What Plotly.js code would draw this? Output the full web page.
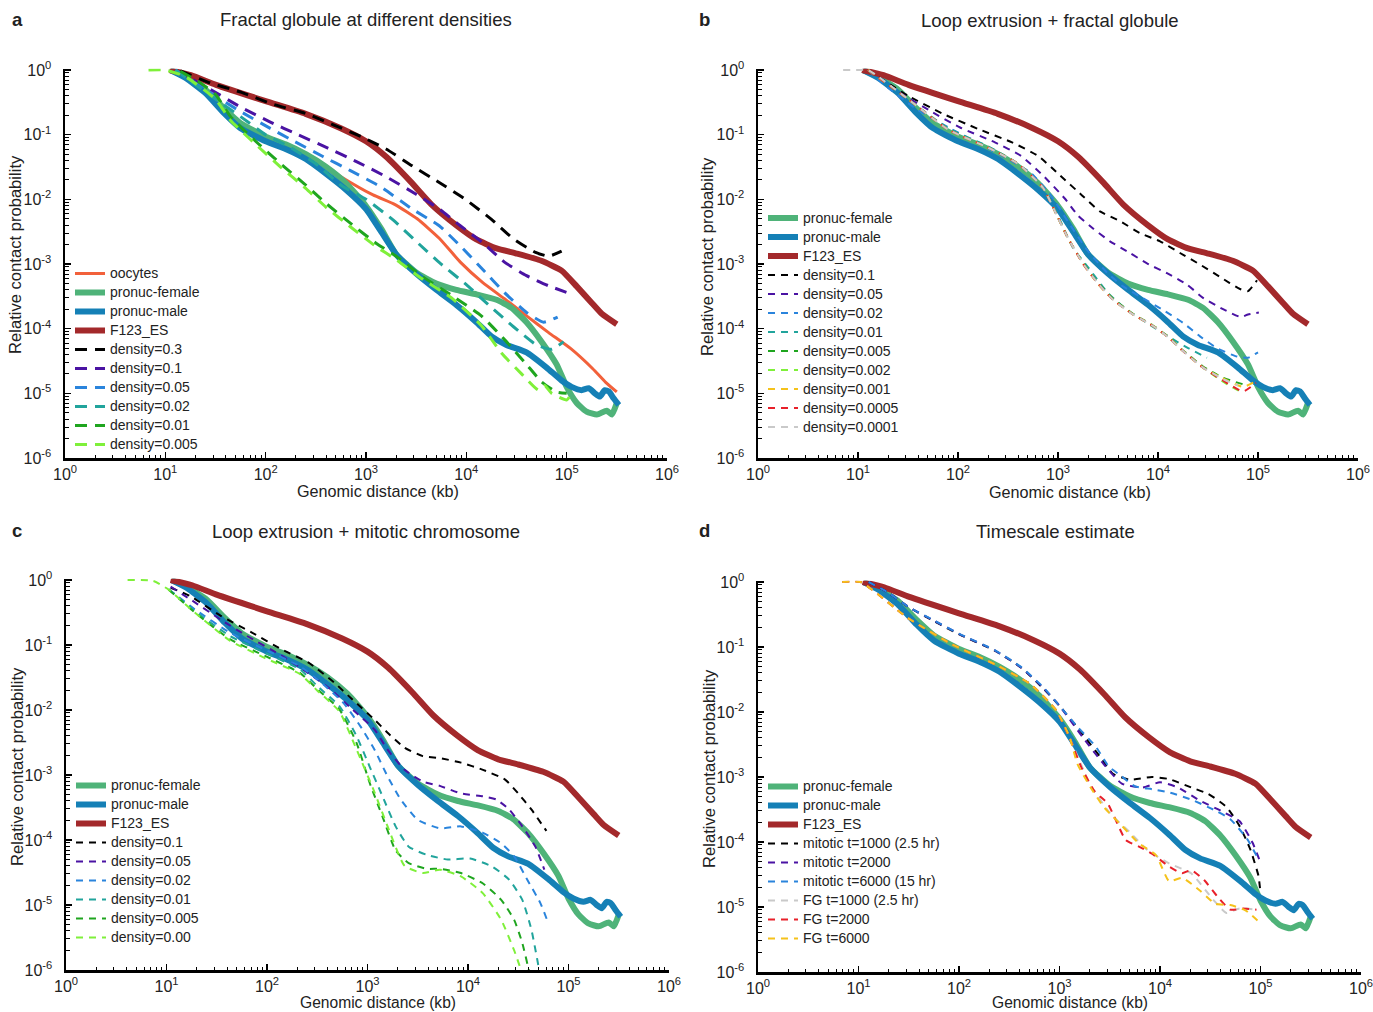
<!DOCTYPE html>
<html>
<head>
<meta charset="utf-8">
<script src="https://cdn.plot.ly/plotly-3.0.1.min.js"></script>
<style>html,body{margin:0;padding:0;background:#fff;}#chart{width:1373px;height:1012px;}</style>
</head>
<body>
<div id="chart"></div>
<script>
// ---------- tick labels ----------
const X_TICK_VALS = [1, 10, 100, 1000, 10000, 100000, 1000000];
const X_TICK_TEXT = ['10<sup>0</sup>','10<sup>1</sup>','10<sup>2</sup>','10<sup>3</sup>','10<sup>4</sup>','10<sup>5</sup>','10<sup>6</sup>'];
const Y_TICK_VALS = [1e-6, 1e-5, 1e-4, 1e-3, 1e-2, 1e-1, 1];
const Y_TICK_TEXT = ['10<sup>-6</sup>','10<sup>-5</sup>','10<sup>-4</sup>','10<sup>-3</sup>','10<sup>-2</sup>','10<sup>-1</sup>','10<sup>0</sup>'];

// ---------- experimental curves (genomic distance kb, contact probability) ----------
const f123X = [11, 18, 32, 100, 250, 560, 1000, 1600, 2800, 4500, 7900, 12600, 20000, 31600, 56000, 89000, 126000, 178000, 224000, 316000];
const f123Y = [1.0, 0.83, 0.59, 0.33, 0.21, 0.126, 0.079, 0.045, 0.0186, 0.0083, 0.0040, 0.0024, 0.00174, 0.00145, 0.00112, 0.00079, 0.00045, 0.00025, 0.00017, 0.000117];

const maleX = [11.2, 15.8, 25.1, 38, 56.2, 100, 158, 251, 398, 631, 1000, 1410, 2000, 3160, 5010, 7940, 12600, 17800, 25100, 39800, 63100, 89100, 112000, 141000, 166000, 191000, 214000, 240000, 263000, 295000, 331000];
const maleY = [1, 0.76, 0.44, 0.22, 0.126, 0.079, 0.060, 0.042, 0.025, 0.0141, 0.0071, 0.0032, 0.00141, 0.00071, 0.00040, 0.000234, 0.000126, 7.6e-5, 5.6e-5, 4.3e-5, 2.5e-5, 1.58e-5, 1.26e-5, 1.12e-5, 1.2e-5, 1.0e-5, 8.9e-6, 1.12e-5, 1.07e-5, 8.3e-6, 6.6e-6];

const femaleX = [11.2, 15.8, 25.1, 38, 56.2, 100, 158, 251, 398, 631, 1000, 1410, 2000, 3160, 5010, 7940, 12600, 20000, 28200, 39800, 56200, 79400, 100000, 126000, 158000, 200000, 251000, 282000, 316000];
const femaleY = [1, 0.79, 0.50, 0.26, 0.151, 0.093, 0.071, 0.050, 0.032, 0.0178, 0.0079, 0.00355, 0.00141, 0.00074, 0.00050, 0.000398, 0.00034, 0.00028, 0.00021, 0.000126, 6.3e-5, 2.8e-5, 1.26e-5, 7.1e-6, 5.2e-6, 4.7e-6, 5.4e-6, 4.7e-6, 7.1e-6];

const oocX = [11.2, 25.1, 56.2, 100, 251, 316, 562, 1175, 1950, 3240, 5370, 8710, 14500, 24000, 39800, 66100, 110000, 182000, 245000, 316000];
const oocY = [1, 0.5, 0.151, 0.093, 0.05, 0.040, 0.0224, 0.0117, 0.0083, 0.005, 0.0025, 0.00107, 0.00052, 0.00029, 0.000158, 8.7e-5, 4.9e-5, 2.4e-5, 1.48e-5, 1.05e-5];

// ---------- panel a: fractal globule ----------
const aD03X = [14.1, 28.2, 57.5, 115, 257, 479, 955, 1585, 2880, 5370, 9770, 17800, 29500, 49000, 66100, 89100];
const aD03Y = [0.966, 0.63, 0.45, 0.30, 0.21, 0.141, 0.089, 0.060, 0.033, 0.0182, 0.010, 0.0049, 0.00245, 0.00151, 0.00132, 0.00158];
const aD01X = [12.6, 28.8, 55.6, 110, 209, 417, 813, 1585, 3160, 5370, 8710, 14500, 24000, 39800, 66100, 102000];
const aD01Y = [1.0, 0.49, 0.27, 0.158, 0.10, 0.062, 0.038, 0.0224, 0.012, 0.0071, 0.0039, 0.00214, 0.00107, 0.00066, 0.00046, 0.00036];
const aD005X = [12.6, 28.2, 55.6, 110, 195, 372, 692, 1380, 2880, 5370, 8710, 14500, 24000, 39800, 58900, 81300];
const aD005Y = [1.0, 0.44, 0.23, 0.126, 0.078, 0.046, 0.028, 0.0158, 0.0071, 0.0039, 0.0019, 0.00083, 0.00036, 0.000178, 0.000126, 0.000151];
const aD002X = [12.6, 31.6, 56.2, 100, 178, 316, 575, 1000, 1860, 3160, 5500, 10000, 17400, 29500, 50100, 70800, 93300];
const aD002Y = [1.0, 0.355, 0.19, 0.10, 0.063, 0.0355, 0.0162, 0.010, 0.0048, 0.00224, 0.00102, 0.00048, 0.000219, 0.000107, 5.6e-5, 4.8e-5, 6.3e-5];
const aD001X = [14.1, 22.4, 31.6, 44.7, 79.4, 141, 251, 398, 708, 1260, 2000, 3550, 7080, 14100, 25100, 39800, 56200, 79400, 100000];
const aD001Y = [0.955, 0.63, 0.42, 0.19, 0.079, 0.0355, 0.0166, 0.0087, 0.0042, 0.0021, 0.00132, 0.00066, 0.00033, 0.000158, 6.3e-5, 2.8e-5, 1.51e-5, 1.05e-5, 1.0e-5];
const aD0005X = [6.8, 10, 15.8, 31.6, 44.7, 79.4, 141, 251, 398, 708, 1260, 2000, 3550, 7080, 14100, 22400, 35500, 52500, 60300, 70800, 100000, 110000];
const aD0005Y = [1, 1, 0.79, 0.355, 0.166, 0.071, 0.0316, 0.0148, 0.0076, 0.0037, 0.00186, 0.00117, 0.0006, 0.0003, 0.000112, 4.2e-5, 2.0e-5, 1.12e-5, 1.32e-5, 1.0e-5, 7.9e-6, 9.5e-6];

// ---------- panel b: loop extrusion + fractal globule ----------
const bD01X = [12.6, 31.6, 70.8, 158, 347, 631, 1050, 1740, 2630, 4170, 6610, 10500, 16600, 26300, 41700, 66100, 79400, 97700];
const bD01Y = [1.0, 0.40, 0.21, 0.123, 0.076, 0.047, 0.0234, 0.0115, 0.0065, 0.0046, 0.003, 0.00224, 0.00148, 0.00098, 0.00063, 0.00041, 0.00038, 0.00056];
const bD005X = [12.6, 23.4, 52.5, 105, 234, 427, 708, 1175, 1585, 2240, 3310, 5250, 7760, 12300, 19500, 28200, 44700, 67600, 79400, 102000];
const bD005Y = [1.0, 0.50, 0.234, 0.129, 0.076, 0.047, 0.0234, 0.0102, 0.0056, 0.00355, 0.00224, 0.00148, 0.00102, 0.00072, 0.00048, 0.0003, 0.0002, 0.000151, 0.000166, 0.000178];
const bD002X = [12.6, 17.4, 38.9, 85.1, 234, 525, 851, 1260, 2000, 3160, 4470, 7080, 11200, 17800, 26300, 38900, 61700, 79400, 100000];
const bD002Y = [1.0, 0.63, 0.245, 0.123, 0.054, 0.0263, 0.0115, 0.0045, 0.00158, 0.00071, 0.00045, 0.000295, 0.000195, 0.000123, 7.6e-5, 5.0e-5, 3.7e-5, 3.55e-5, 4.3e-5];
const bD001X = [12.6, 31.6, 79.4, 200, 398, 708, 1000, 1410, 2000, 3160, 5010, 7940, 12600, 20000, 30900];
const bD001Y = [1.0, 0.355, 0.126, 0.066, 0.0355, 0.0151, 0.0056, 0.00178, 0.00089, 0.000355, 0.00019, 0.00012, 7.6e-5, 5.0e-5, 3.55e-5];
const bD0005X = [12.6, 31.6, 79.4, 200, 398, 708, 1000, 1260, 1780, 2510, 3550, 5620, 8910, 12600, 17800, 28200, 44700, 70800];
const bD0005Y = [1, 0.355, 0.12, 0.063, 0.0355, 0.0151, 0.0052, 0.0025, 0.00104, 0.00051, 0.00029, 0.00017, 0.000112, 7.6e-5, 4.6e-5, 2.6e-5, 1.74e-5, 1.38e-5];
const bD0002X = [12.6, 31.6, 79.4, 200, 398, 708, 1000, 1260, 1780, 2510, 3550, 5620, 8910, 12600, 17800, 28200, 44700, 66100];
const bD0002Y = [1, 0.355, 0.12, 0.063, 0.0355, 0.0151, 0.0052, 0.0025, 0.00102, 0.0005, 0.00028, 0.000166, 0.00011, 7.4e-5, 4.5e-5, 2.5e-5, 1.51e-5, 1.07e-5];
const bD00001X = [12.6, 31.6, 79.4, 200, 398, 708, 1000, 1260, 1780, 2510, 3550, 5620, 8910, 12600, 17800, 28200, 44700, 70800, 100000];
const bD00001Y = [1, 0.355, 0.12, 0.063, 0.0355, 0.0151, 0.0052, 0.0025, 0.00100, 0.00049, 0.00028, 0.000166, 0.00011, 7.4e-5, 4.5e-5, 2.5e-5, 1.7e-5, 1.26e-5, 1.6e-5];
const bD00005X = [12.6, 31.6, 79.4, 200, 398, 708, 1000, 1260, 1780, 2510, 3550, 5620, 8910, 12600, 17800, 28200, 44700, 70800, 95500];
const bD00005Y = [1, 0.355, 0.12, 0.063, 0.0355, 0.0151, 0.0052, 0.0025, 0.00101, 0.0005, 0.00028, 0.000166, 0.00011, 7.4e-5, 4.5e-5, 2.5e-5, 1.58e-5, 1.07e-5, 1.45e-5];
const bD000001X = [7.1, 10, 12.6, 31.6, 79.4, 200, 398, 708, 1000, 1260, 1780, 2510, 3550, 5620, 8910, 12600, 17800, 28200, 44700, 63100];
const bD000001Y = [1, 1, 1, 0.355, 0.12, 0.063, 0.0355, 0.0151, 0.0052, 0.0025, 0.00102, 0.0005, 0.00028, 0.000166, 0.00011, 7.4e-5, 4.5e-5, 2.5e-5, 1.66e-5, 1.32e-5];

// ---------- panel c: loop extrusion + mitotic chromosome ----------
const cD01X = [11, 17.4, 34.7, 70.8, 141, 257, 468, 708, 1175, 1585, 2340, 3550, 5250, 8510, 14100, 23400, 31600, 42700, 60300];
const cD01Y = [0.76, 0.56, 0.28, 0.155, 0.085, 0.054, 0.0263, 0.0145, 0.0071, 0.00447, 0.00263, 0.00195, 0.00182, 0.00155, 0.0012, 0.00085, 0.00052, 0.000295, 0.000138];
const cD005X = [11, 17.4, 34.7, 63.1, 141, 257, 427, 708, 1175, 1585, 2340, 3550, 5250, 8510, 14100, 19100, 25700, 34700, 46800, 57500];
const cD005Y = [0.79, 0.50, 0.245, 0.138, 0.068, 0.037, 0.021, 0.0102, 0.005, 0.00245, 0.0012, 0.00079, 0.00068, 0.00052, 0.00047, 0.00042, 0.000295, 0.000162, 7.9e-5, 3.5e-5];
const cD002X = [10.5, 19.1, 42.7, 95.5, 214, 347, 575, 851, 1175, 1585, 2140, 3160, 5250, 8510, 14100, 21400, 28800, 38900, 52500, 63100];
const cD002Y = [0.72, 0.355, 0.155, 0.085, 0.047, 0.0263, 0.0129, 0.0056, 0.00245, 0.00095, 0.00042, 0.000204, 0.000151, 0.000162, 0.000129, 8.9e-5, 5.6e-5, 2.45e-5, 1.07e-5, 5.2e-6];
const cD001X = [10.5, 20, 42.7, 95.5, 214, 316, 525, 776, 1050, 1410, 1905, 2570, 3890, 6310, 10500, 17400, 25700, 34700, 42700, 52500];
const cD001Y = [0.72, 0.316, 0.138, 0.076, 0.042, 0.0234, 0.0115, 0.004, 0.00135, 0.00047, 0.000162, 7.9e-5, 5.9e-5, 5.0e-5, 5.2e-5, 3.9e-5, 2.45e-5, 1.2e-5, 4.2e-6, 7.9e-7];
const cD0005X = [10.5, 20, 42.7, 95.5, 214, 316, 525, 776, 1050, 1410, 1905, 2570, 3890, 5250, 8510, 14100, 21400, 28800, 34700, 41700];
const cD0005Y = [0.71, 0.30, 0.123, 0.068, 0.037, 0.021, 0.0102, 0.00316, 0.00076, 0.000229, 6.9e-5, 4.4e-5, 3.6e-5, 3.6e-5, 3.1e-5, 2.14e-5, 1.2e-5, 5.9e-6, 2.6e-6, 7.9e-7];
const cD000X = [4.1, 7.4, 10.5, 19.1, 42.7, 95.5, 214, 316, 525, 776, 1175, 1585, 2340, 3550, 5250, 8510, 14100, 21400, 28800, 35500];
const cD000Y = [1.0, 0.966, 0.71, 0.316, 0.117, 0.063, 0.0355, 0.02, 0.0095, 0.0025, 0.00054, 0.000162, 4.0e-5, 3.1e-5, 3.5e-5, 2.75e-5, 1.51e-5, 5.9e-6, 2.0e-6, 7.9e-7];

// ---------- panel d: timescale estimate ----------
const dMit1000X = [12.6, 20, 30.9, 56.2, 102, 229, 417, 692, 1020, 1700, 2510, 3390, 5010, 8320, 12300, 20400, 30200, 45700, 61700, 79400, 95500, 100000];
const dMit1000Y = [1.0, 0.68, 0.42, 0.25, 0.155, 0.087, 0.048, 0.0229, 0.012, 0.00457, 0.00209, 0.00112, 0.00091, 0.001, 0.00093, 0.00069, 0.00055, 0.000347, 0.000178, 7.6e-5, 3.0e-5, 1.62e-5];
const dMit2000X = [12.6, 20, 30.9, 56.2, 102, 229, 417, 692, 1020, 1700, 2750, 4170, 6760, 10000, 15100, 25100, 40700, 61700, 83200, 100000];
const dMit2000Y = [1.0, 0.68, 0.42, 0.255, 0.157, 0.088, 0.048, 0.0234, 0.012, 0.0041, 0.00158, 0.00079, 0.00069, 0.00083, 0.00069, 0.00043, 0.0003, 0.00021, 9.8e-5, 4.8e-5];
const dMit6000X = [12.6, 20, 30.9, 56.2, 102, 229, 417, 692, 1020, 1510, 2290, 3090, 4170, 5620, 8320, 12300, 20400, 33900, 50100, 74100, 95500];
const dMit6000Y = [1.0, 0.68, 0.42, 0.257, 0.158, 0.089, 0.049, 0.024, 0.012, 0.0059, 0.00295, 0.00145, 0.00102, 0.00072, 0.00065, 0.00058, 0.00045, 0.000316, 0.000224, 0.00011, 5.4e-5];
const dFG1000X = [6.9, 10.5, 30.9, 85.1, 229, 513, 933, 1260, 2000, 3160, 5010, 7590, 12300, 20400, 33900, 45700, 61700, 91200];
const dFG1000Y = [1, 1, 0.28, 0.11, 0.054, 0.0269, 0.0105, 0.004, 0.00079, 0.00028, 0.000141, 7.4e-5, 4.7e-5, 3.3e-5, 1.29e-5, 8.1e-6, 9.5e-6, 9.1e-6];
const dFG2000X = [6.9, 10.5, 30.9, 85.1, 229, 513, 933, 1260, 1660, 2240, 3020, 4570, 6170, 8320, 12300, 16600, 20400, 27500, 37200, 50100, 67600, 91200];
const dFG2000Y = [1, 1, 0.28, 0.11, 0.054, 0.0269, 0.0105, 0.004, 0.00138, 0.0006, 0.00039, 0.000107, 8.5e-5, 6.6e-5, 4.2e-5, 3.3e-5, 3.7e-5, 2.6e-5, 1.45e-5, 9.1e-6, 9.5e-6, 9.1e-6];
const dFG6000X = [6.9, 10.5, 30.9, 85.1, 229, 513, 933, 1260, 1510, 2040, 2750, 4170, 6170, 9120, 12300, 16600, 25100, 35500, 50100, 70800, 100000];
const dFG6000Y = [1, 1, 0.28, 0.11, 0.054, 0.0269, 0.0105, 0.0041, 0.00158, 0.00069, 0.000347, 0.000178, 9.5e-5, 6.3e-5, 2.5e-5, 2.8e-5, 1.78e-5, 1.12e-5, 1.07e-5, 8.9e-6, 5.6e-6];

// ---------- colours ----------
const C = {
  ooc: '#f2613b', female: '#4fb379', male: '#1580b6', f123: '#a3292b',
  black: '#000000', purple: '#4a13a3', blue: '#2a84dc', teal: '#21a49c',
  green: '#1fa51f', lime: '#7ff03a', yellow: '#f5c21b', red: '#e8202a', gray: '#c9c9c9'
};
const FONT = 'Liberation Sans, Arial, Helvetica, sans-serif';

function line(x, y, name, color, width, dash, leg, n) {
  return {
    type: 'scatter', mode: 'lines', x: x, y: y,
    name: '<span style="font-size:14px">' + name + '</span>', legend: leg,
    xaxis: n === 1 ? 'x' : 'x' + n, yaxis: n === 1 ? 'y' : 'y' + n,
    line: { color: color, width: width, dash: dash, shape: 'spline', smoothing: 0.5 },
    hoverinfo: 'skip'
  };
}
const DA = '12px,8px';
const DB = '7px,6px';
const TH = 6;

const traces = [
  // a
  line(oocX, oocY, 'oocytes', C.ooc, 3, 'solid', 'legend', 1),
  line(femaleX, femaleY, 'pronuc-female', C.female, TH, 'solid', 'legend', 1),
  line(maleX, maleY, 'pronuc-male', C.male, TH, 'solid', 'legend', 1),
  line(f123X, f123Y, 'F123_ES', C.f123, TH, 'solid', 'legend', 1),
  line(aD03X, aD03Y, 'density=0.3', C.black, 3, DA, 'legend', 1),
  line(aD01X, aD01Y, 'density=0.1', C.purple, 3, DA, 'legend', 1),
  line(aD005X, aD005Y, 'density=0.05', C.blue, 3, DA, 'legend', 1),
  line(aD002X, aD002Y, 'density=0.02', C.teal, 3, DA, 'legend', 1),
  line(aD001X, aD001Y, 'density=0.01', C.green, 3, DA, 'legend', 1),
  line(aD0005X, aD0005Y, 'density=0.005', C.lime, 3, DA, 'legend', 1),
  // b
  line(femaleX, femaleY, 'pronuc-female', C.female, TH, 'solid', 'legend2', 2),
  line(maleX, maleY, 'pronuc-male', C.male, TH, 'solid', 'legend2', 2),
  line(f123X, f123Y, 'F123_ES', C.f123, TH, 'solid', 'legend2', 2),
  line(bD01X, bD01Y, 'density=0.1', C.black, 2, DB, 'legend2', 2),
  line(bD005X, bD005Y, 'density=0.05', C.purple, 2, DB, 'legend2', 2),
  line(bD002X, bD002Y, 'density=0.02', C.blue, 2, DB, 'legend2', 2),
  line(bD001X, bD001Y, 'density=0.01', C.teal, 2, DB, 'legend2', 2),
  line(bD0005X, bD0005Y, 'density=0.005', C.green, 2, DB, 'legend2', 2),
  line(bD0002X, bD0002Y, 'density=0.002', C.lime, 2, DB, 'legend2', 2),
  line(bD00001X, bD00001Y, 'density=0.001', C.yellow, 2, DB, 'legend2', 2),
  line(bD00005X, bD00005Y, 'density=0.0005', C.red, 2, DB, 'legend2', 2),
  line(bD000001X, bD000001Y, 'density=0.0001', C.gray, 2, DB, 'legend2', 2),
  // c
  line(femaleX, femaleY, 'pronuc-female', C.female, TH, 'solid', 'legend3', 3),
  line(maleX, maleY, 'pronuc-male', C.male, TH, 'solid', 'legend3', 3),
  line(f123X, f123Y, 'F123_ES', C.f123, TH, 'solid', 'legend3', 3),
  line(cD01X, cD01Y, 'density=0.1', C.black, 2, DB, 'legend3', 3),
  line(cD005X, cD005Y, 'density=0.05', C.purple, 2, DB, 'legend3', 3),
  line(cD002X, cD002Y, 'density=0.02', C.blue, 2, DB, 'legend3', 3),
  line(cD001X, cD001Y, 'density=0.01', C.teal, 2, DB, 'legend3', 3),
  line(cD0005X, cD0005Y, 'density=0.005', C.green, 2, DB, 'legend3', 3),
  line(cD000X, cD000Y, 'density=0.00', C.lime, 2, DB, 'legend3', 3),
  // d
  line(femaleX, femaleY, 'pronuc-female', C.female, TH, 'solid', 'legend4', 4),
  line(maleX, maleY, 'pronuc-male', C.male, TH, 'solid', 'legend4', 4),
  line(f123X, f123Y, 'F123_ES', C.f123, TH, 'solid', 'legend4', 4),
  line(dMit1000X, dMit1000Y, 'mitotic t=1000 (2.5 hr)', C.black, 2, DB, 'legend4', 4),
  line(dMit2000X, dMit2000Y, 'mitotic t=2000', C.purple, 2, DB, 'legend4', 4),
  line(dMit6000X, dMit6000Y, 'mitotic t=6000 (15 hr)', C.blue, 2, DB, 'legend4', 4),
  line(dFG1000X, dFG1000Y, 'FG t=1000 (2.5 hr)', C.gray, 2, DB, 'legend4', 4),
  line(dFG2000X, dFG2000Y, 'FG t=2000', C.red, 2, DB, 'legend4', 4),
  line(dFG6000X, dFG6000Y, 'FG t=6000', C.yellow, 2, DB, 'legend4', 4)
];

// minor tick positions (2..9 within each decade)
const MINOR_X = [], MINOR_Y = [];
for (let e = 0; e < 6; e++) for (let m = 2; m <= 9; m++) MINOR_X.push(m * Math.pow(10, e));
for (let e = -6; e < 0; e++) for (let m = 2; m <= 9; m++) MINOR_Y.push(m * Math.pow(10, e));

const W = 1373, H = 1012;
const px = v => v / W;
const py = v => 1 - v / H;

function xax(l, r, anchor) {
  return {
    type: 'log', range: [0, 6], domain: [px(l), px(r)], anchor: anchor,
    showline: true, linecolor: '#000', linewidth: 2.5, mirror: false,
    showgrid: false, zeroline: false,
    ticks: 'inside', ticklen: 6, tickwidth: 1.3, tickcolor: '#000',
    tickmode: 'array', tickvals: X_TICK_VALS, ticktext: X_TICK_TEXT,
    tickfont: { family: FONT, size: 16, color: '#222' }, ticklabelstandoff: 0,
    ticklabeloverflow: 'allow',
    minor: { tickmode: 'array', tickvals: MINOR_X, ticks: 'inside', ticklen: 3.5, tickwidth: 1, tickcolor: '#000' }
  };
}
function yax(top, bottom, anchor) {
  return {
    type: 'log', range: [-6, 0.02], domain: [py(bottom), py(top)], anchor: anchor,
    showline: true, linecolor: '#000', linewidth: 2.5, mirror: false,
    showgrid: false, zeroline: false,
    ticks: 'inside', ticklen: 6, tickwidth: 1.3, tickcolor: '#000',
    tickmode: 'array', tickvals: Y_TICK_VALS, ticktext: Y_TICK_TEXT,
    tickfont: { family: FONT, size: 16, color: '#222' }, ticklabelstandoff: 8,
    ticklabeloverflow: 'allow',
    minor: { tickmode: 'array', tickvals: MINOR_Y, ticks: 'inside', ticklen: 3.5, tickwidth: 1, tickcolor: '#000' }
  };
}
function leg(left, top) {
  return {
    x: px(left), y: py(top), xanchor: 'left', yanchor: 'top',
    bgcolor: 'rgba(0,0,0,0)', borderwidth: 0,
    font: { family: FONT, size: 12, color: '#222' }, itemwidth: 30,
    tracegroupgap: 0
  };
}
function ann(text, x, y, size, opts) {
  return Object.assign({
    text: text, x: px(x), y: py(y), xref: 'paper', yref: 'paper',
    xanchor: 'center', yanchor: 'middle', showarrow: false,
    font: { family: FONT, size: size, color: '#222' }
  }, opts || {});
}

const layout = {
  width: W, height: H, paper_bgcolor: '#fff', plot_bgcolor: '#fff',
  margin: { l: 0, r: 0, t: 0, b: 0 }, showlegend: true,
  font: { family: FONT, color: '#222' },
  xaxis: xax(65, 667, 'y'), yaxis: yax(68.7, 458, 'x'),
  xaxis2: xax(758, 1358, 'y2'), yaxis2: yax(68.7, 458, 'x2'),
  xaxis3: xax(66, 669, 'y3'), yaxis3: yax(578.7, 970, 'x3'),
  xaxis4: xax(758, 1361, 'y4'), yaxis4: yax(580.7, 972, 'x4'),
  legend: leg(70, 259), legend2: leg(763, 203.5), legend3: leg(71, 771), legend4: leg(763, 772),
  annotations: [
    ann('<b>a</b>', 17, 20, 18.5), ann('<b>b</b>', 704, 20, 18.5),
    ann('<b>c</b>', 17, 530, 18.5), ann('<b>d</b>', 704, 530, 18.5),
    ann('Fractal globule at different densities', 366, 20, 18.5),
    ann('Loop extrusion + fractal globule', 1050, 21, 18.5),
    ann('Loop extrusion + mitotic chromosome', 366, 531, 18.5),
    ann('Timescale estimate', 1055, 531, 18.5),
    ann('Genomic distance (kb)', 378, 491, 16.2), ann('Genomic distance (kb)', 1070, 492, 16.2),
    ann('Genomic distance (kb)', 378, 1002.5, 15.6), ann('Genomic distance (kb)', 1070, 1002.5, 15.6),
    ann('Relative contact probability', 15, 255, 16.6, { textangle: -90 }),
    ann('Relative contact probability', 707, 257, 16.6, { textangle: -90 }),
    ann('Relative contact probability', 17, 767, 16.6, { textangle: -90 }),
    ann('Relative contact probability', 709, 768, 16.6, { textangle: -90 })
  ]
};

Plotly.newPlot('chart', traces, layout, { displayModeBar: false, staticPlot: true });
</script>
</body>
</html>
